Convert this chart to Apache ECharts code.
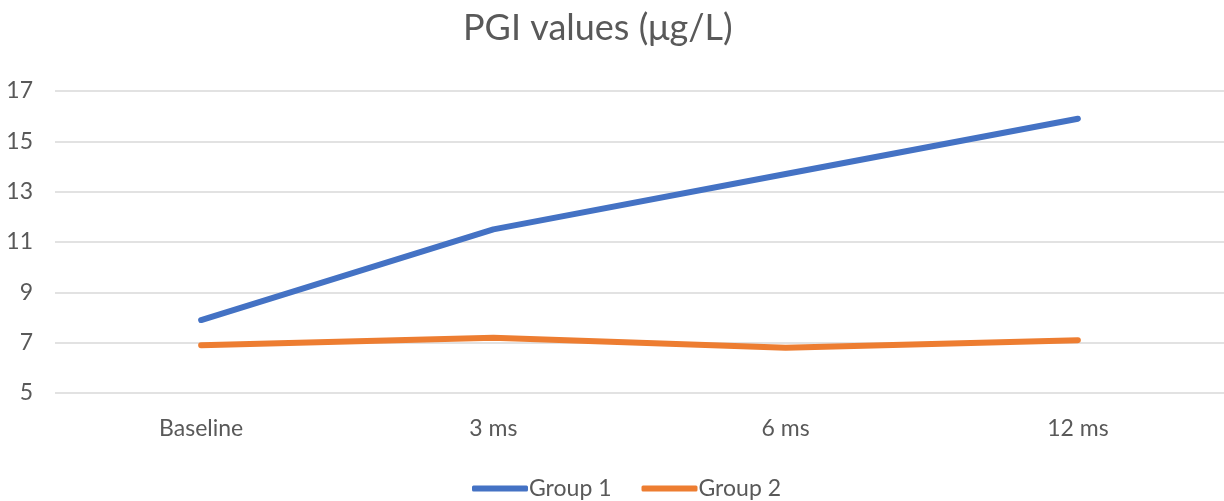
<!DOCTYPE html>
<html><head><meta charset="utf-8">
<script src="https://cdn.jsdelivr.net/npm/echarts@6/dist/echarts.min.js"></script>
<style>html,body{margin:0;padding:0;background:#fff}#c{width:1224px;height:501px}</style>
</head><body><div id="c"></div>
<script>
const categories = ['Baseline', '3 ms', '6 ms', '12 ms'];
const group1 = [7.9, 11.5, 13.7, 15.9];
const group2 = [6.9, 7.2, 6.8, 7.1];
const seriesNames = ['Group 1', 'Group 2'];
const yMin = 5, yMax = 17, yStep = 2;

const font = 'Lato, "Open Sans", sans-serif';
const chart = echarts.init(document.getElementById('c'), null, {renderer: 'canvas'});
chart.setOption({
  animation: false,
  backgroundColor: '#fff',
  title: {text: 'PGI values (\u03bcg/L)', left: 458, top: 5,
    textStyle: {fontFamily: font, fontSize: 36, fontWeight: 'normal', color: '#595959'}},
  legend: {bottom: -4, left: 467, itemWidth: 56, itemHeight: 6, itemGap: 30,
    icon: 'roundRect',
    textStyle: {fontFamily: font, fontSize: 23, color: '#595959', padding: [0,0,0,-4]},
    data: seriesNames},
  grid: {left: 55, right: 0, top: 91, bottom: 108},
  xAxis: {type: 'category', data: categories, boundaryGap: true,
    axisLine: {show: false}, axisTick: {show: false},
    axisLabel: {fontFamily: font, fontSize: 23, color: '#595959', margin: 24}},
  yAxis: {type: 'value', min: yMin, max: yMax, interval: yStep,
    axisLine: {show: false}, axisTick: {show: false},
    axisLabel: {fontFamily: font, fontSize: 23, color: '#595959', margin: 22},
    splitLine: {lineStyle: {color: '#d9d9d9', width: 1.5}}},
  series: [
    {name: seriesNames[0], type: 'line', data: group1, symbol: 'none',
      lineStyle: {width: 6, color: '#4472C4', cap: 'round', join: 'round'}, itemStyle: {color: '#4472C4'}},
    {name: seriesNames[1], type: 'line', data: group2, symbol: 'none',
      lineStyle: {width: 6, color: '#ED7D31', cap: 'round', join: 'round'}, itemStyle: {color: '#ED7D31'}}
  ]
});
</script></body></html>
